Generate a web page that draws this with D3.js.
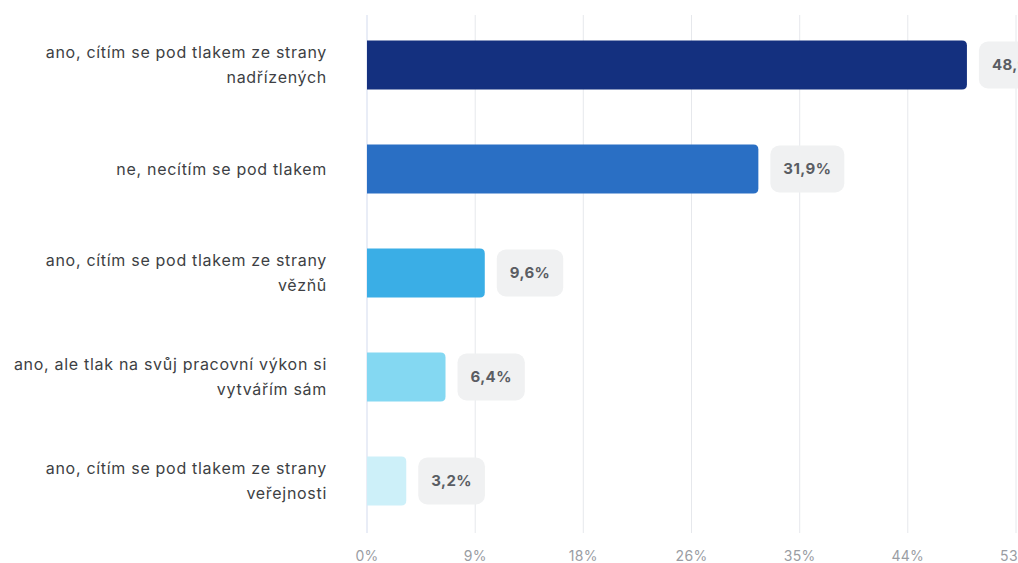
<!DOCTYPE html>
<html><head><meta charset="utf-8">
<script src="https://cdn.jsdelivr.net/npm/d3@7"></script>
<style>
html,body{margin:0;padding:0;background:#fff;overflow:hidden;}
svg{display:block;font-family:Inter,"Noto Sans",sans-serif;}
</style></head>
<body>
<svg id="c" width="1018" height="563"></svg>
<script>
const categories = [
  ["ano, cítím se pod tlakem ze strany", "nadřízených"],
  ["ne, necítím se pod tlakem"],
  ["ano, cítím se pod tlakem ze strany", "vězňů"],
  ["ano, ale tlak na svůj pracovní výkon si", "vytvářím sám"],
  ["ano, cítím se pod tlakem ze strany", "veřejnosti"]
];
const values = [48.9, 31.9, 9.6, 6.4, 3.2];
const valueLabels = ["48,9%", "31,9%", "9,6%", "6,4%", "3,2%"];
const colors = ["#14307f", "#2a6fc4", "#3aaee6", "#84d8f2", "#cdf0f9"];
const tickValues = [0, 8.82, 17.63, 26.45, 35.27, 44.08, 52.9];
const tickLabels = ["0%", "9%", "18%", "26%", "35%", "44%", "53%"];

const svg = d3.select("#c");
const x = d3.scaleLinear().domain([0, 52.9]).range([367, 1016]);
const y = d3.scaleBand().domain(d3.range(values.length)).range([13, 533]).paddingInner(0.53).paddingOuter(0.265);

// grid
svg.append("g").selectAll("line").data(tickValues).join("line")
  .attr("x1", d => x(d)).attr("x2", d => x(d))
  .attr("y1", 15).attr("y2", 533)
  .attr("stroke", (d,i) => i === 0 ? "#d3dbee" : "#e6e8ec").attr("stroke-width", 1);

// tick labels
svg.append("g").selectAll("text").data(tickValues).join("text")
  .attr("x", d => x(d)).attr("y", 561)
  .attr("text-anchor", "middle")
  .attr("font-size", 14).attr("letter-spacing", 0.3).attr("fill", "#9a9da3")
  .text((d,i) => tickLabels[i]);

// bars with rounded right corners
function barPath(x0, x1, y0, h, r) {
  r = Math.min(r, (x1 - x0), h / 2);
  return `M${x0},${y0}H${x1 - r}Q${x1},${y0} ${x1},${y0 + r}V${y0 + h - r}Q${x1},${y0 + h} ${x1 - r},${y0 + h}H${x0}Z`;
}
const bw = y.bandwidth();
svg.append("g").selectAll("path").data(values).join("path")
  .attr("d", (d,i) => barPath(x(0), x(d), y(i), bw, 5))
  .attr("fill", (d,i) => colors[i]);

// value labels
const lg = svg.append("g").selectAll("g").data(values).join("g");
lg.each(function(d,i){
  const g = d3.select(this);
  const t = g.append("text")
    .attr("font-size", 15).attr("font-weight", 700).attr("letter-spacing", 0.4).attr("fill", "#5a5d63")
    .attr("y", y(i) + bw/2).attr("dy", "0.35em")
    .text(valueLabels[i]);
  const w = t.node().getComputedTextLength();
  const bx = x(d) + 12;
  g.insert("rect", "text")
    .attr("x", bx).attr("y", y(i) + 1).attr("width", w + 26).attr("height", bw - 2)
    .attr("rx", 9).attr("fill", "#f0f1f2");
  t.attr("x", bx + 13);
});

// category labels
const cg = svg.append("g").selectAll("text").data(categories).join("text")
  .attr("text-anchor", "end").attr("font-size", 16).attr("letter-spacing", 0.7).attr("fill", "#3d3f44");
cg.each(function(lines, i){
  const t = d3.select(this);
  const cy = y(i) + bw/2;
  const lh = 25;
  const start = cy - (lines.length - 1) * lh / 2;
  lines.forEach((s, k) => {
    t.append("tspan").attr("x", 327).attr("y", start + k*lh).attr("dy", "0.35em").text(s);
  });
});
</script>
</body></html>
